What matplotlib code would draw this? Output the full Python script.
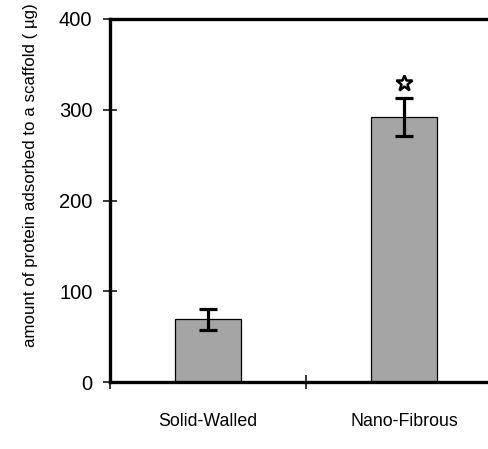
import matplotlib.pyplot as plt

# protein adsorbed per scaffold type (mean and error)
categories = ['Solid-Walled', 'Nano-Fibrous']
amounts = [69, 292]
errors = [11.5, 21]
significant = [False, True]

plt.rcParams['font.family'] = ['Liberation Sans', 'DejaVu Sans']

fig = plt.figure(figsize=(4.89, 4.49), dpi=100)
ax = fig.add_axes([0.225, 0.1492, 0.8016, 0.8085])

x = list(range(len(categories)))
ax.bar(x, amounts, width=0.335, color='#a5a5a5', edgecolor='black', linewidth=0.9, zorder=2)
ax.errorbar(x, amounts, yerr=errors, fmt='none', ecolor='black',
            elinewidth=2.3, capsize=6.5, capthick=2.3, zorder=3)

# star above significant bars
for xi, val, err, sig in zip(x, amounts, errors, significant):
    if sig:
        ax.plot(xi, val + err + 16, marker='*', markersize=12, markerfacecolor='white',
                markeredgecolor='black', markeredgewidth=1.8, zorder=4)

ax.set_xlim(-0.5, 1.5)
ax.set_ylim(0, 400)
ax.set_yticks([0, 100, 200, 300, 400])
ax.set_xticks(x)
ax.set_xticklabels(categories, fontsize=12.8)
ax.set_xticks([-0.5, 0.5, 1.5], minor=True)

ax.tick_params(axis='x', which='major', length=0, pad=22)
ax.tick_params(axis='x', which='minor', direction='inout', length=9.4, width=1.1)
ax.tick_params(axis='y', direction='inout', length=9.4, width=1.1, pad=8, labelsize=14.5)

for side in ['left', 'bottom', 'top']:
    ax.spines[side].set_linewidth(2.4)
ax.spines['right'].set_visible(False)

ax.set_ylabel('amount of protein adsorbed to a scaffold ( µg)', fontsize=12.2, va='center')
ax.yaxis.set_label_coords(-0.204, 0.57)

fig.savefig('out.png', dpi=100)
